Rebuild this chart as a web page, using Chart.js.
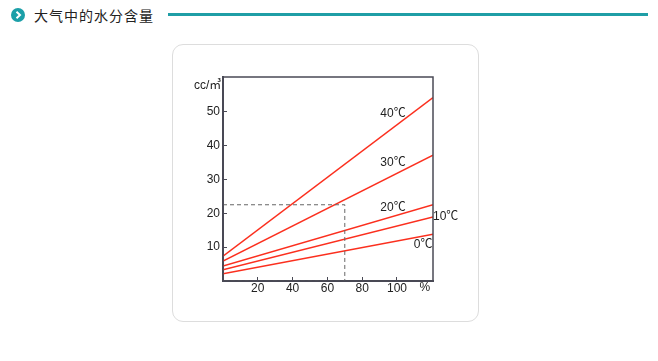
<!DOCTYPE html>
<html lang="zh">
<head>
<meta charset="utf-8">
<title>大气中的水分含量</title>
<script src="https://cdn.jsdelivr.net/npm/chart.js@4"></script>
<style>
  html, body { margin: 0; padding: 0; background: #fff; }
  body { position: relative; width: 658px; height: 361px; overflow: hidden; }
  .icon { position: absolute; left: 11px; top: 8px; width: 14px; height: 14px; border-radius: 50%; background: #1b9fa8; }
  .icon svg { display: block; }
  .title { position: absolute; left: 34px; top: 5px; font: 14px/20px "Noto Sans CJK SC", sans-serif; letter-spacing: 1px; color: #222; }
  .rule { position: absolute; left: 168px; top: 13px; width: 480px; height: 3px; background: #1f9ea6; }
  .card { position: absolute; left: 172px; top: 44px; width: 305px; height: 276px; border: 1px solid #ddd; border-radius: 11px; }
  canvas { position: absolute; left: 0; top: 0; }
</style>
</head>
<body>
<div class="icon"><svg width="14" height="14"><path d="M5.5 3.8 L9 7 L5.5 10.2" fill="none" stroke="#fff" stroke-width="2"/></svg></div>
<div class="title">大气中的水分含量</div>
<div class="rule"></div>
<div class="card"></div>
<canvas id="chart" width="658" height="361"></canvas>
<script>
const lineX = [0, 120.7];
const temp40 = [7.3, 54.1];
const temp30 = [5.9, 37.1];
const temp20 = [4.4, 22.5];
const temp10 = [3.3, 18.9];
const temp0 = [2.1, 13.8];
const guideX = [0, 70, 70, 0];
const guideY = [22.5, 22.5, 0, 0];
const yTicks = [10, 20, 30, 40, 50];
const xTicks = [20, 40, 60, 80, 100];
const noteText = ["40℃", "30℃", "20℃", "10℃", "0℃", "cc/㎥", "%"];
const noteX = [97.7, 97.7, 97.7, 128, 115, -1, 116];
const noteY = [49.3, 34.8, 21.7, 18.9, 10.8, 57.5, -1.9];

const toPoints = (xs, ys) => xs.map((x, i) => ({ x, y: ys[i] }));
const redLine = (values) => ({
  data: toPoints(lineX, values),
  showLine: true,
  borderColor: "#fb2f1e",
  borderWidth: 1.5,
  pointRadius: 0
});

const frameAndNotes = {
  id: "frameAndNotes",
  afterDatasetsDraw(chart) {
    const { ctx, chartArea, scales } = chart;
    ctx.save();
    ctx.strokeStyle = "#4a4a55";
    ctx.lineWidth = 1.5;
    ctx.strokeRect(chartArea.left, chartArea.top, chartArea.width, chartArea.height);
    ctx.fillStyle = "#222";
    ctx.font = "12px 'Liberation Sans', 'Noto Sans CJK SC', sans-serif";
    ctx.textBaseline = "middle";
    noteText.forEach((text, i) => {
      // cc/㎥ hangs off the left of the axis, the rest sit centred on their point
      ctx.textAlign = i === 5 ? "right" : "center";
      ctx.fillText(text, scales.x.getPixelForValue(noteX[i]), scales.y.getPixelForValue(noteY[i]));
    });
    ctx.restore();
  }
};

new Chart(document.getElementById("chart"), {
  type: "scatter",
  data: {
    datasets: [
      {
        data: toPoints(guideX, guideY),
        showLine: true,
        borderColor: "#666",
        borderWidth: 1,
        borderDash: [4, 3],
        pointRadius: 0
      },
      redLine(temp40),
      redLine(temp30),
      redLine(temp20),
      redLine(temp10),
      redLine(temp0)
    ]
  },
  options: {
    responsive: false,
    animation: false,
    layout: { padding: { left: 173, right: 225, top: 77, bottom: 50 } },
    plugins: {
      legend: { display: false },
      tooltip: { enabled: false }
    },
    scales: {
      x: {
        type: "linear",
        min: 0,
        max: 120.7,
        afterFit: (scale) => { scale.height = 30; },
        afterBuildTicks: (scale) => { scale.ticks = xTicks.map((value) => ({ value })); },
        border: { color: "#4a4a55", width: 2 },
        grid: { drawOnChartArea: false, tickLength: -4, tickColor: "#4a4a55", tickWidth: 1 },
        ticks: { autoSkip: false, maxRotation: 0, padding: 4, color: "#222", font: { family: "'Liberation Sans', sans-serif", size: 12 } }
      },
      y: {
        type: "linear",
        min: 0,
        max: 60.2,
        afterFit: (scale) => { scale.width = 50; },
        afterBuildTicks: (scale) => { scale.ticks = yTicks.map((value) => ({ value })); },
        border: { color: "#4a4a55", width: 2 },
        grid: { drawOnChartArea: false, tickLength: -4, tickColor: "#4a4a55", tickWidth: 1 },
        ticks: { autoSkip: false, padding: 7, color: "#222", font: { family: "'Liberation Sans', sans-serif", size: 12 } }
      }
    }
  },
  plugins: [frameAndNotes]
});
</script>
</body>
</html>
